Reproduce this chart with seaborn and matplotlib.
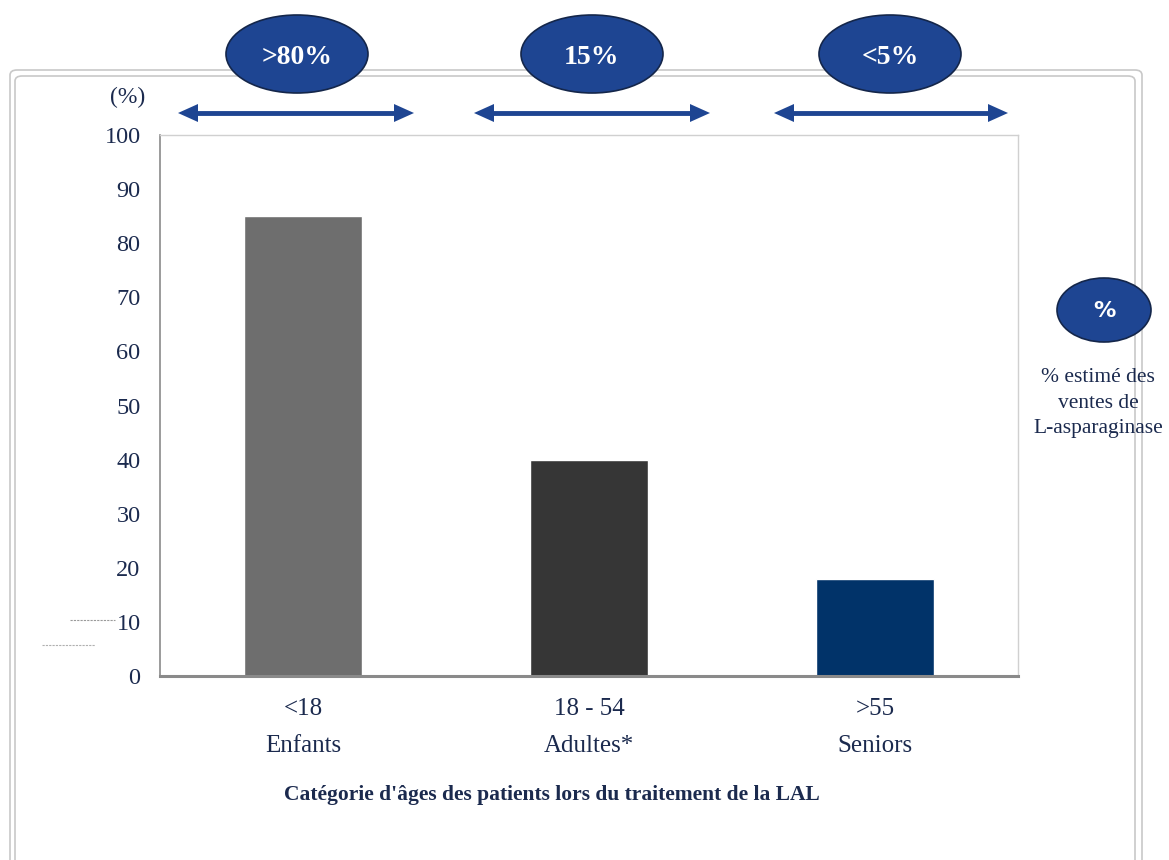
import matplotlib
matplotlib.use("Agg")
import matplotlib.pyplot as plt
import seaborn as sns
import pandas as pd
from matplotlib.patches import Ellipse, FancyBboxPatch, Polygon
from matplotlib.lines import Line2D

sns.set_theme(style="white")
plt.rcParams['font.family'] = ['Liberation Serif', 'DejaVu Serif']

categories = ["<18\nEnfants", "18 - 54\nAdultes*", ">55\nSeniors"]
values = [85, 40, 18]
bar_colors = ["#6e6e6e", "#363636", "#013369"]
share_labels = [">80%", "15%", "<5%"]
yticks = [0, 10, 20, 30, 40, 50, 60, 70, 80, 90, 100]

W, H = 1169, 860
fig = plt.figure(figsize=(W / 100, H / 100), dpi=100)
navy_text = "#1b2a4e"
ell_col = "#1e4592"

def fx(x):
    return x / W

def fy(y):
    return 1 - y / H

# outer frame (double line)
for (x0, y0, x1, y1) in [(10, 70, 1142, 900), (15, 76, 1135, 900)]:
    fig.patches.append(FancyBboxPatch((fx(x0), fy(y1)), fx(x1 - x0), (y1 - y0) / H,
                                      boxstyle="round,pad=0,rounding_size=0.006",
                                      transform=fig.transFigure, fill=False,
                                      edgecolor="#c8c8c8", linewidth=1.2, zorder=0))

ax = fig.add_axes([fx(160), fy(676), fx(1018 - 160), (676 - 135) / H])
df = pd.DataFrame({"cat": categories, "val": values})
sns.barplot(data=df, x="cat", y="val", hue="cat", palette=bar_colors,
            width=0.41, legend=False, ax=ax, saturation=1)
ax.set_xlim(-0.5, 2.5)
ax.set_ylim(0, 100)
ax.set_yticks(yticks)
ax.set_yticklabels([str(t) for t in yticks], fontsize=17.5, color=navy_text)
ax.set_xticks(range(len(categories)))
ax.set_xticklabels(categories, fontsize=18, color=navy_text, linespacing=1.85)
ax.tick_params(axis="y", length=0, pad=14)
ax.tick_params(axis="x", length=0, pad=16)
ax.set_ylabel("")
ax.set_xlabel("Catégorie d'âges des patients lors du traitement de la LAL",
              fontsize=15.5, fontweight="bold", color=navy_text)
ax.xaxis.set_label_coords((552 - 160) / (1018 - 160), -(795 - 676) / (676 - 135))
ax.xaxis.label.set_va("center")
for s in ["top", "right"]:
    ax.spines[s].set_color("#d0d0d0")
    ax.spines[s].set_linewidth(1.0)
ax.spines["left"].set_color("#8a8a8a")
ax.spines["left"].set_linewidth(1.2)
ax.spines["bottom"].set_color("#8a8a8a")
ax.spines["bottom"].set_linewidth(2.2)

fig.text(fx(128), fy(97), "(%)", fontsize=17, color=navy_text, ha="center", va="center")

# ellipses + double arrows above bars
ell_cx = [297, 592, 890]
arr_x = [(178, 414), (474, 710), (774, 1008)]
ay = 113
hl, hw = 20, 9
for cx, lab, (a0, a1) in zip(ell_cx, share_labels, arr_x):
    e = Ellipse((fx(cx), fy(54)), fx(142), 78 / H, transform=fig.transFigure,
                facecolor=ell_col, edgecolor="#14264a", linewidth=1.2, zorder=3)
    fig.patches.append(e)
    fig.text(fx(cx), fy(57), lab, fontsize=20, fontweight="bold", color="white",
             ha="center", va="center", zorder=4)
    fig.add_artist(Line2D([fx(a0 + hl - 2), fx(a1 - hl + 2)], [fy(ay), fy(ay)],
                          transform=fig.transFigure, color=ell_col, linewidth=3.5,
                          solid_capstyle="butt", zorder=3))
    fig.patches.append(Polygon([(fx(a0), fy(ay)), (fx(a0 + hl), fy(ay - hw)),
                                (fx(a0 + hl), fy(ay + hw))], closed=True,
                               transform=fig.transFigure, facecolor=ell_col,
                               edgecolor="none", zorder=3))
    fig.patches.append(Polygon([(fx(a1), fy(ay)), (fx(a1 - hl), fy(ay - hw)),
                                (fx(a1 - hl), fy(ay + hw))], closed=True,
                               transform=fig.transFigure, facecolor=ell_col,
                               edgecolor="none", zorder=3))

# right legend ellipse
e = Ellipse((fx(1104), fy(310)), fx(94), 64 / H, transform=fig.transFigure,
            facecolor=ell_col, edgecolor="#14264a", linewidth=1.2, zorder=3)
fig.patches.append(e)
fig.text(fx(1104), fy(311), "%", fontsize=16, fontweight="bold", color="white",
         ha="center", va="center", family=["DejaVu Sans"], zorder=4)
fig.text(fx(1098), fy(403), "% estimé des\nventes de\nL-asparaginase", fontsize=15.5,
         color=navy_text, ha="center", va="center", linespacing=1.5)

# faint stray dotted lines near 10
fig.add_artist(Line2D([fx(70), fx(115)], [fy(620), fy(620)], transform=fig.transFigure,
                      color="#9a9a9a", linewidth=0.8, linestyle=(0, (2, 1))))
fig.add_artist(Line2D([fx(42), fx(95)], [fy(645), fy(645)], transform=fig.transFigure,
                      color="#b0b0b0", linewidth=0.8, linestyle=(0, (2, 1))))

fig.savefig("out.png", dpi=100)
